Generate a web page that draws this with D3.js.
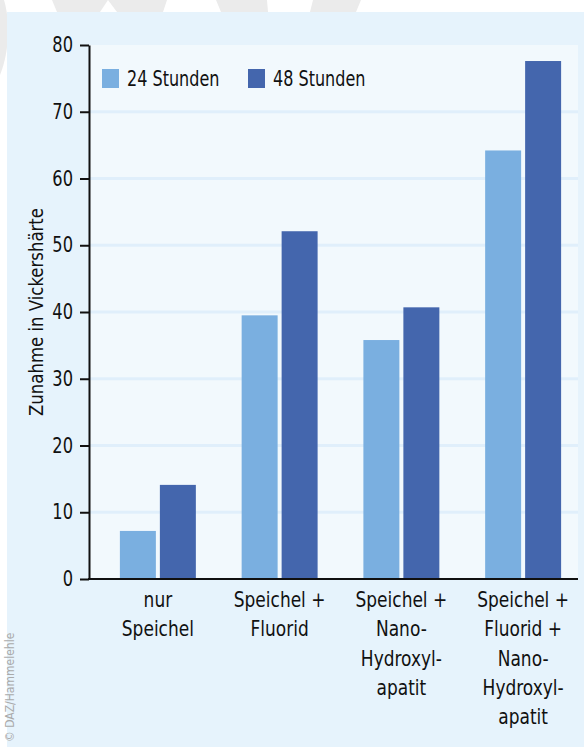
<!DOCTYPE html>
<html>
<head>
<meta charset="utf-8">
<script src="https://cdn.jsdelivr.net/npm/d3@7"></script>
<style>
  html, body { margin: 0; padding: 0; background: #ffffff; }
  svg { display: block; }
  text { font-family: "Liberation Sans Narrow", "DejaVu Sans Condensed", "Open Sans", sans-serif; fill: #111; }
</style>
</head>
<body>
<svg id="chart" width="584" height="747"></svg>
<script>
// Categories (each as its wrapped label lines)
const categories = ["nur Speichel", "Speichel + Fluorid", "Speichel + Nano-Hydroxylapatit", "Speichel + Fluorid + Nano-Hydroxylapatit"];
const categoryLines = [
  ["nur", "Speichel"],
  ["Speichel +", "Fluorid"],
  ["Speichel +", "Nano-", "Hydroxyl-", "apatit"],
  ["Speichel +", "Fluorid +", "Nano-", "Hydroxyl-", "apatit"]
];
// Series
const seriesNames = ["24 Stunden", "48 Stunden"];
const values24h = [7.2, 39.5, 35.8, 64.2];
const values48h = [14.1, 52.1, 40.7, 77.6];
const seriesColors = ["#7aafe0", "#4466ad"];
// Axis
const yTicks = [0, 10, 20, 30, 40, 50, 60, 70, 80];
const yTitle = "Zunahme in Vickershärte";
const credit = "© DAZ/Hammelehle";

const svg = d3.select("#chart");
const W = 584, H = 747;
const squeeze = 0.86; // horizontal compression for a condensed look

// Watermark fragments peeking out above the panel
const wm = svg.append("g").attr("fill", "#ebebeb");
wm.append("path").attr("d", "M0,0 L4,0 C10,20 10,50 0,75 Z");
wm.append("path").attr("d", "M52,0 L167,0 L163,12 L117,12 L108,0 L100,12 L57,12 Z");
wm.append("path").attr("d", "M216,0 L267,0 L268,12 L221,12 Z");
wm.append("path").attr("d", "M313,0 L361,0 L356,12 L310,12 Z");

// Outer light-blue panel
svg.append("rect").attr("x", 7).attr("y", 12).attr("width", W - 7).attr("height", H - 12).attr("fill", "#e6f3fc");

const plot = { left: 89, right: 578, top: 45, bottom: 579 };

// Scales
const y = d3.scaleLinear().domain([0, 80]).range([plot.bottom, plot.top]);
const x0 = d3.scaleBand().domain(categories).range([97, 584]).paddingInner(0.376).paddingOuter(0.188);
const x1 = d3.scaleBand().domain(seriesNames).range([0, x0.bandwidth()]).paddingInner(0.1);

// Plot area
svg.append("rect")
  .attr("x", plot.left).attr("y", plot.top)
  .attr("width", plot.right - plot.left).attr("height", plot.bottom - plot.top)
  .attr("fill", "#f2f9fd");

// Gridlines
svg.append("g").selectAll("line")
  .data(yTicks.filter(d => d > 0 && d < 80))
  .join("line")
  .attr("x1", plot.left).attr("x2", plot.right)
  .attr("y1", d => y(d)).attr("y2", d => y(d))
  .attr("stroke", "#e0effb").attr("stroke-width", 3);

// Bars
const rows = categories.map((c, i) => ({ cat: c, vals: [values24h[i], values48h[i]] }));
const groups = svg.append("g").selectAll("g")
  .data(rows).join("g")
  .attr("transform", d => `translate(${x0(d.cat)},0)`);
groups.selectAll("rect")
  .data(d => d.vals.map((v, j) => ({ s: seriesNames[j], v, j })))
  .join("rect")
  .attr("x", d => x1(d.s))
  .attr("width", x1.bandwidth())
  .attr("y", d => y(d.v))
  .attr("height", d => y(0) - y(d.v))
  .attr("fill", d => seriesColors[d.j]);

// Y axis
const yAxis = svg.append("g")
  .attr("transform", `translate(${plot.left},0)`)
  .call(d3.axisLeft(y).tickValues(yTicks).tickSize(9).tickSizeOuter(0).tickPadding(6));
yAxis.select(".domain").attr("stroke", "#111").attr("stroke-width", 2);
yAxis.selectAll(".tick line").attr("stroke", "#111").attr("stroke-width", 2);
yAxis.selectAll(".tick text").attr("font-size", 21).attr("fill", "#111")
  .style("font-family", "'Liberation Sans Narrow', 'DejaVu Sans Condensed', sans-serif")
  .attr("transform", `scale(${squeeze},1)`)
  .attr("x", -16 / squeeze);

// Baseline
svg.append("line")
  .attr("x1", plot.left - 1).attr("x2", plot.right)
  .attr("y1", y(0)).attr("y2", y(0))
  .attr("stroke", "#111").attr("stroke-width", 2);

// Y axis title
svg.append("text")
  .attr("transform", `translate(43,${(plot.top + plot.bottom) / 2}) rotate(-90) scale(${squeeze + 0.06},1)`)
  .attr("text-anchor", "middle")
  .attr("font-size", 20)
  .text(yTitle);

// Category labels
const lab = svg.append("g").selectAll("text")
  .data(categories).join("text")
  .attr("text-anchor", "middle")
  .attr("font-size", 22)
  .attr("transform", d => `translate(${x0(d) + x0.bandwidth() / 2},607) scale(${squeeze},1)`);
lab.selectAll("tspan")
  .data((d, i) => categoryLines[i])
  .join("tspan")
  .attr("x", 0)
  .attr("dy", (d, i) => i === 0 ? 0 : 29.3)
  .text(d => d);

// Legend
const legend = svg.append("g");
const legendX = [102, 248];
seriesNames.forEach((s, j) => {
  legend.append("rect").attr("x", legendX[j]).attr("y", 69).attr("width", 17).attr("height", 19).attr("fill", seriesColors[j]);
  legend.append("text")
    .attr("transform", `translate(${legendX[j] + 25},86) scale(${squeeze - 0.05},1)`)
    .attr("font-size", 22).text(s);
});

// Credit
svg.append("text")
  .attr("transform", "translate(14,742) rotate(-90)")
  .attr("font-size", 12)
  .style("fill", "#aaaaaa")
  .text(credit);
</script>
</body>
</html>
